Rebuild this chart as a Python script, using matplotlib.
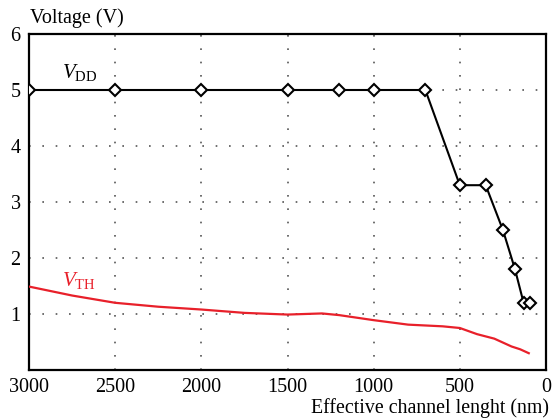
import matplotlib
matplotlib.use("Agg")
import matplotlib.pyplot as plt

# Data
vdd_len = [3000, 2500, 2000, 1500, 1200, 1000, 700, 500, 350, 250, 180, 130, 90]
vdd_val = [5, 5, 5, 5, 5, 5, 5, 3.3, 3.3, 2.5, 1.8, 1.2, 1.2]

vth_len = [3000, 2750, 2500, 2250, 2000, 1750, 1500, 1300, 1200, 1000, 800, 600, 500, 400, 300, 200, 150, 100]
vth_val = [1.49, 1.33, 1.20, 1.13, 1.08, 1.02, 0.99, 1.01, 0.98, 0.89, 0.81, 0.78, 0.75, 0.64, 0.56, 0.42, 0.37, 0.30]

x_ticks = [3000, 2500, 2000, 1500, 1000, 500, 0]
y_ticks = [1, 2, 3, 4, 5, 6]

plt.rcParams['font.family'] = ['Liberation Serif', 'DejaVu Serif']
plt.rcParams['mathtext.fontset'] = 'custom'
plt.rcParams['mathtext.rm'] = 'Liberation Serif'
plt.rcParams['mathtext.it'] = 'Liberation Serif:italic'

fig = plt.figure(figsize=(5.53, 4.18), dpi=100)
ax = fig.add_axes([29/553, 1 - 370/418, (546-29)/553, (370-34)/418])

ax.plot(vdd_len, vdd_val, color='black', lw=1.5, marker='D', markersize=6,
        markerfacecolor='white', markeredgecolor='black', markeredgewidth=1.5, zorder=3)
ax.plot(vth_len, vth_val, color='#e8202a', lw=1.6, zorder=3)

ax.set_xlim(3000, 0)
ax.set_ylim(0, 6)
ax.set_xticks(x_ticks)
ax.set_yticks(y_ticks)
ax.tick_params(length=0, labelsize=14.5, pad=6)
ax.grid(True, color='#555555', linestyle=(0, (1, 7)), linewidth=1.2)
for s in ax.spines.values():
    s.set_linewidth(1.6)
    s.set_color('black')

ax.text(2810, 5.32, r'$V_{\mathrm{DD}}$', fontsize=15, color='black', va='center', ha='left')
ax.text(2810, 1.6, r'$V_{\mathrm{TH}}$', fontsize=15, color='#e8202a', va='center', ha='left')

fig.text(30/553, 1 - 18/418, 'Voltage (V)', fontsize=14.5, ha='left', va='center')
fig.text(549/553, 1 - 408/418, 'Effective channel lenght (nm)', fontsize=14.3, ha='right', va='center')

fig.savefig('out.png', dpi=100)
